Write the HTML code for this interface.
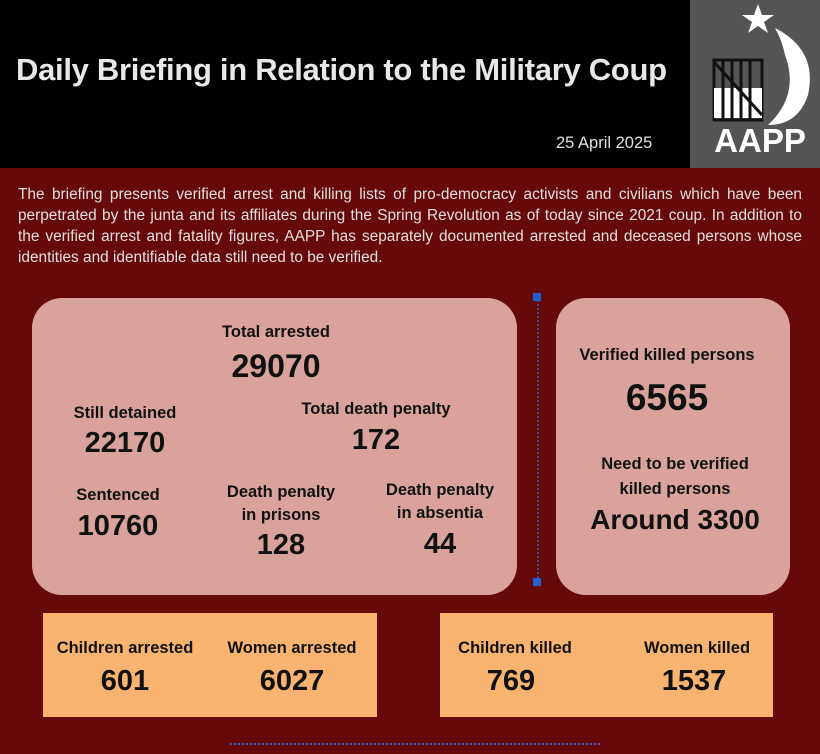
<!DOCTYPE html>
<html><head><style>
body{margin:0;width:820px;height:754px;background:#650909;font-family:"Liberation Sans",sans-serif;position:relative;overflow:hidden}
.a{position:absolute}
.hdr{left:0;top:0;width:820px;height:168px;background:#000}
.logo{left:690px;top:0;width:130px;height:168px;background:#555}
.c{position:absolute;text-align:center;font-weight:bold;color:#111;transform:translateX(-50%);white-space:nowrap}
.l{font-size:16.5px;line-height:23px}
.n{font-size:29px;line-height:34px}
.card{background:#d9a39b;border-radius:30px}
.or{background:#f7b36f}
</style></head><body>
<div class="a hdr"></div>
<div class="a" style="left:16px;top:52px;font-size:31px;font-weight:bold;color:#e8e8e8;letter-spacing:-0.3px">Daily Briefing in Relation to the Military Coup</div>
<div class="a" style="left:556px;top:134px;font-size:16.5px;color:#e0e0e0">25 April 2025</div>
<div class="a logo">
<svg width="130" height="168" viewBox="0 0 130 168">
<polygon points="68,4 72,15 84,15 74,22 78,33 68,26 58,33 62,22 52,15 64,15" fill="#fff"/>
<path d="M85,28 Q128,50 118,95 Q108,125 78,125 Q110,95 95,55 Q92,40 85,28 Z" fill="#fff"/>
<rect x="24" y="60" width="48" height="60" fill="none" stroke="#111" stroke-width="3"/>
<rect x="24" y="88" width="48" height="30" fill="#fff"/>
<g stroke="#111" stroke-width="3"><line x1="33" y1="60" x2="33" y2="120"/><line x1="42" y1="60" x2="42" y2="120"/><line x1="51" y1="60" x2="51" y2="120"/><line x1="60" y1="60" x2="60" y2="120"/><line x1="24" y1="62" x2="72" y2="115"/></g>
<text x="70" y="152" text-anchor="middle" font-family="Liberation Sans" font-weight="bold" font-size="33" fill="#fff">AAPP</text>
</svg></div>
<div class="a" style="left:18px;top:184px;width:784px;font-size:15.4px;line-height:21px;color:#e4dede;text-align:justify">The briefing presents verified arrest and killing lists of pro-democracy activists and civilians which have been perpetrated by the junta and its affiliates during the Spring Revolution as of today since 2021 coup. In addition to the verified arrest and fatality figures, AAPP has separately documented arrested and deceased persons whose identities and identifiable data still need to be verified.</div>
<div class="a card" style="left:32px;top:298px;width:485px;height:297px"></div>
<div class="a card" style="left:556px;top:298px;width:234px;height:297px"></div>
<div class="a" style="left:537px;top:296px;height:286px;border-left:2px dotted #4a3c9a"></div>
<div class="a" style="left:533px;top:293px;width:8px;height:8px;background:#1f5fd0"></div>
<div class="a" style="left:533px;top:578px;width:8px;height:8px;background:#1f5fd0"></div>
<div class="c l" style="left:276px;top:321px">Total arrested</div>
<div class="c n" style="left:276px;top:349px;font-size:32px">29070</div>
<div class="c l" style="left:125px;top:402px">Still detained</div>
<div class="c n" style="left:125px;top:426px">22170</div>
<div class="c l" style="left:376px;top:398px">Total death penalty</div>
<div class="c n" style="left:376px;top:423px">172</div>
<div class="c l" style="left:118px;top:484px">Sentenced</div>
<div class="c n" style="left:118px;top:509px">10760</div>
<div class="c l" style="left:281px;top:481px;line-height:23px">Death penalty<br>in prisons</div>
<div class="c n" style="left:281px;top:528px">128</div>
<div class="c l" style="left:440px;top:479px;line-height:23px">Death penalty<br>in absentia</div>
<div class="c n" style="left:440px;top:527px">44</div>
<div class="c l" style="left:667px;top:344px">Verified killed persons</div>
<div class="c n" style="left:667px;top:378px;font-size:37px;line-height:40px">6565</div>
<div class="c l" style="left:675px;top:452px;line-height:25px">Need to be verified<br>killed persons</div>
<div class="c n" style="left:675px;top:503px;font-size:28px">Around 3300</div>
<div class="a or" style="left:43px;top:613px;width:334px;height:104px"></div>
<div class="a or" style="left:440px;top:613px;width:333px;height:104px"></div>
<div class="c l" style="left:125px;top:637px">Children arrested</div>
<div class="c n" style="left:125px;top:664px">601</div>
<div class="c l" style="left:292px;top:637px">Women arrested</div>
<div class="c n" style="left:292px;top:664px">6027</div>
<div class="c l" style="left:515px;top:637px">Children killed</div>
<div class="c n" style="left:511px;top:664px">769</div>
<div class="c l" style="left:697px;top:637px">Women killed</div>
<div class="c n" style="left:694px;top:664px">1537</div>
<div class="a" style="left:230px;top:743px;width:370px;border-top:2px dotted #3a5fd0"></div>
</body></html>
